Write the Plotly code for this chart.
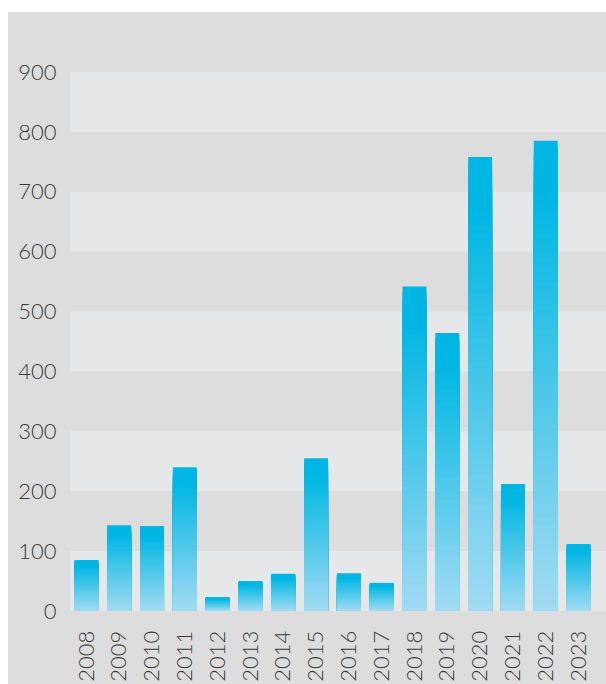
import plotly.graph_objects as go

# --- data ---
years = ["2008", "2009", "2010", "2011", "2012", "2013", "2014", "2015",
         "2016", "2017", "2018", "2019", "2020", "2021", "2022", "2023"]
values = [85, 143, 142, 240, 23, 50, 62, 255, 63, 47, 542, 464, 758, 212, 785, 112]
y_ticks = [0, 100, 200, 300, 400, 500, 600, 700, 800, 900]

# --- style ---
TOP = (0, 183, 227)       # bright cyan at bar top
BOTTOM = (162, 219, 242)  # pale blue at bar base
LIGHT_BAND = "#e6e7e9"
DARK_BAND = "#dddddd"
N = 60  # gradient steps

W, H = 606, 684
ML, MR, MT, MB = 70, 11, 72, 73
pw = W - ML - MR
ph = H - MT - MB

fig = go.Figure()

# fake vertical gradient: overlay bars, tallest first (top colour), shorter on top (lighter)
for k in range(N, 0, -1):
    f = min(1.0, ((k - 0.5) / N) / 0.88)
    c = tuple(round(BOTTOM[j] + (TOP[j] - BOTTOM[j]) * f) for j in range(3))
    fig.add_trace(go.Bar(
        x=years,
        y=[v * k / N for v in values],
        marker=dict(color="rgb(%d,%d,%d)" % c, line=dict(width=0)),
        hoverinfo="skip",
        showlegend=False,
    ))

shapes = []
# grey panel behind everything (runs off the right and bottom edges)
shapes.append(dict(type="rect", xref="paper", yref="paper",
                   x0=(8 - ML) / pw, x1=1.5,
                   y0=-0.5, y1=1 + (MT - 12) / ph,
                   fillcolor=DARK_BAND, line=dict(width=0), layer="below"))
# light bands every other 100
for lo in range(0, 900, 200):
    shapes.append(dict(type="rect", xref="paper", yref="y",
                       x0=0, x1=1.5, y0=lo, y1=lo + 100,
                       fillcolor=LIGHT_BAND, line=dict(width=0), layer="below"))

fig.update_layout(
    width=W, height=H, autosize=False,
    margin=dict(l=ML, r=MR, t=MT, b=MB, autoexpand=False),
    barmode="overlay", bargap=0.27,
    paper_bgcolor="white", plot_bgcolor="rgba(0,0,0,0)",
    font=dict(family="Lato", size=22, color="#3a3a3a", weight=300),
    shapes=shapes,
    xaxis=dict(type="category", tickangle=-90, showgrid=False, zeroline=False,
               automargin=False, showline=False, ticks="outside", ticklen=10,
               tickcolor="rgba(0,0,0,0)"),
    yaxis=dict(range=[0, 900], tickvals=y_ticks, showgrid=False, zeroline=False,
               automargin=False, showline=False, ticks="outside", ticklen=8,
               tickcolor="rgba(0,0,0,0)"),
)

# drop the default page margin so the 606x684 figure fills the window
fig.write_html("out.html", config={"displayModeBar": False},
               post_script="document.body.style.margin='0';")
